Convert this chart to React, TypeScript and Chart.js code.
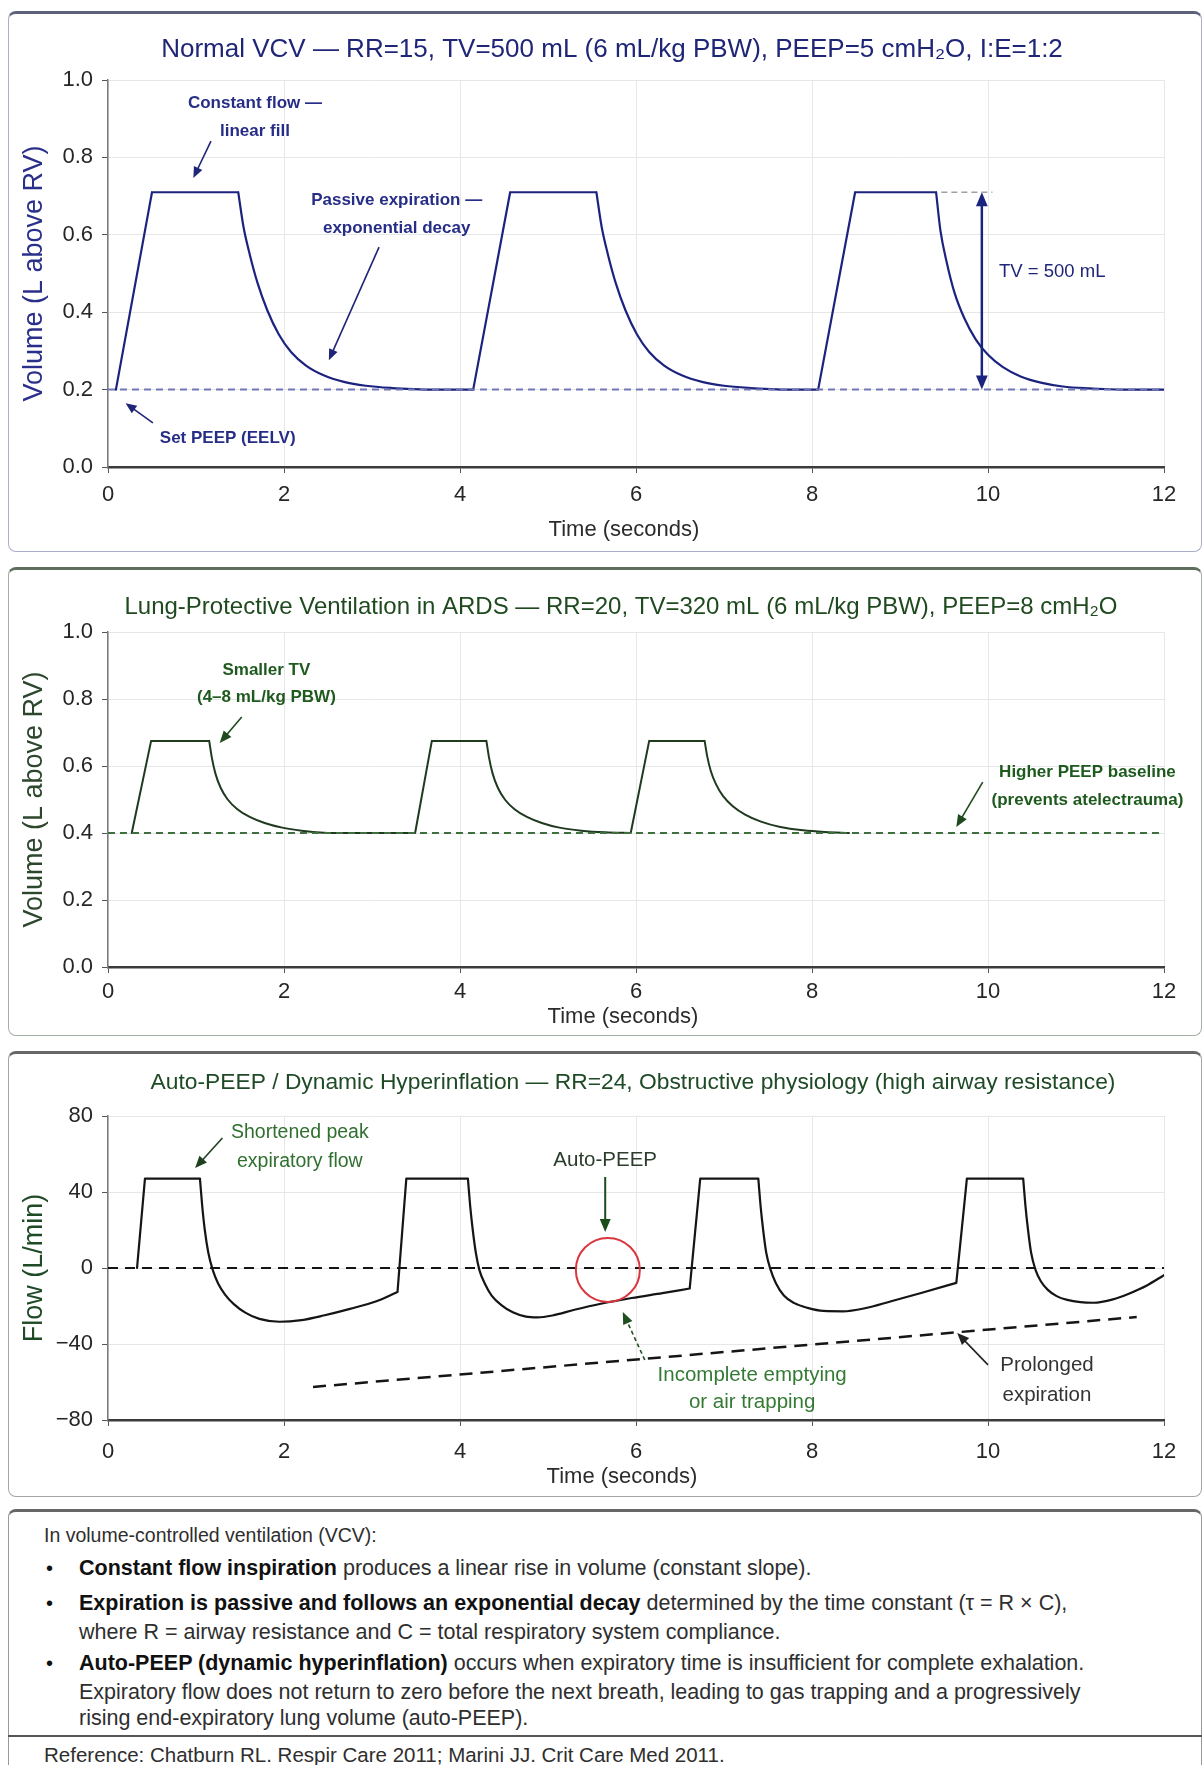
import React, { useEffect, useRef } from 'react';
import { Chart, registerables } from 'chart.js';

Chart.register(...registerables);

const FONT = '"Liberation Sans", Arial, Helvetica, sans-serif';

// ---------------- axis ticks ----------------
const timeTicks = [0, 2, 4, 6, 8, 10, 12];
const volumeTicks = [0, 0.2, 0.4, 0.6, 0.8, 1.0];
const flowTicks = [-80, -40, 0, 40, 80];

// ---------------- Panel 1: Normal VCV volume (null = pen lift) ----------------
const vcvVolumeTrace: (number[] | null)[] = [
  [0.09, 0.2], [0.5, 0.71], null,
  [0.5, 0.71], [1.48, 0.71], null,
  [1.48, 0.71], [1.54, 0.62], [1.61, 0.55], [1.7, 0.475], [1.81, 0.405], [1.94, 0.343], [2.08, 0.297],
  [2.25, 0.262], [2.45, 0.237], [2.68, 0.22], [2.93, 0.21], [3.23, 0.204], [3.6, 0.2], null,
  [3.6, 0.2], [4.15, 0.2], null,
  [4.15, 0.2], [4.57, 0.71], null,
  [4.57, 0.71], [5.55, 0.71], null,
  [5.55, 0.71], [5.61, 0.62], [5.68, 0.55], [5.77, 0.475], [5.88, 0.405], [6.01, 0.343], [6.15, 0.297],
  [6.32, 0.262], [6.52, 0.237], [6.75, 0.22], [7.0, 0.21], [7.3, 0.204], [7.65, 0.2], null,
  [7.65, 0.2], [8.07, 0.2], null,
  [8.07, 0.2], [8.49, 0.71], null,
  [8.49, 0.71], [9.41, 0.71], null,
  [9.41, 0.71], [9.46, 0.61], [9.53, 0.53], [9.62, 0.45], [9.73, 0.385], [9.86, 0.33], [10.0, 0.29],
  [10.17, 0.258], [10.37, 0.234], [10.6, 0.218], [10.85, 0.208], [11.15, 0.203], [11.5, 0.2], null,
  [11.5, 0.2], [12, 0.2],
];
const vcvPeepLine: number[][] = [[0, 0.2], [12, 0.2]];

// ---------------- Panel 2: ARDS lung-protective volume ----------------
const ardsVolumeTrace: (number[] | null)[] = [
  [0.27, 0.4], [0.49, 0.675], null,
  [0.49, 0.675], [1.15, 0.675], null,
  [1.15, 0.675], [1.18, 0.625], [1.22, 0.578], [1.28, 0.535], [1.36, 0.5], [1.47, 0.471],
  [1.61, 0.448], [1.78, 0.43], [1.98, 0.416], [2.2, 0.407], [2.45, 0.401], [2.62, 0.4], null,
  [2.62, 0.4], [3.49, 0.4], null,
  [3.49, 0.4], [3.68, 0.675], null,
  [3.68, 0.675], [4.3, 0.675], null,
  [4.3, 0.675], [4.33, 0.625], [4.37, 0.578], [4.43, 0.535], [4.51, 0.5], [4.62, 0.471],
  [4.76, 0.448], [4.93, 0.43], [5.13, 0.416], [5.38, 0.407], [5.65, 0.402], [5.94, 0.4], null,
  [5.94, 0.4], [6.15, 0.675], null,
  [6.15, 0.675], [6.78, 0.675], null,
  [6.78, 0.675], [6.81, 0.628], [6.85, 0.585], [6.91, 0.545], [6.99, 0.51], [7.1, 0.48],
  [7.24, 0.455], [7.42, 0.434], [7.64, 0.418], [7.9, 0.408], [8.15, 0.403], [8.42, 0.4],
];
const ardsPeepLine: number[][] = [[0, 0.4], [12, 0.4]];

// ---------------- Panel 3: Auto-PEEP flow ----------------
const autoPeepFlowTrace: (number[] | null)[] = [
  [0.33, 0], [0.42, 47], null,
  [0.42, 47], [1.045, 47], null,
  [1.045, 47], [1.07, 33], [1.1, 20], [1.14, 8], [1.19, -1], [1.25, -8], [1.33, -14], [1.43, -19],
  [1.56, -23.5], [1.72, -26.8], [1.95, -28.3], [2.2, -27.4], [2.45, -25], [2.75, -21.5], [3.05, -17.5],
  [3.29, -12.6], null,
  [3.29, -12.6], [3.39, 47], null,
  [3.39, 47], [4.09, 47], null,
  [4.09, 47], [4.115, 33], [4.145, 20], [4.18, 8], [4.22, -1], [4.28, -8], [4.36, -14.5], [4.47, -19.5],
  [4.6, -23.3], [4.75, -25.6], [4.88, -26], [5.05, -25], [5.3, -22], [5.6, -18.8], [5.95, -15.8],
  [6.3, -13.2], [6.61, -10.8], null,
  [6.61, -10.8], [6.73, 47], null,
  [6.73, 47], [7.39, 47], null,
  [7.39, 47], [7.415, 33], [7.445, 20], [7.48, 8], [7.53, -1], [7.59, -8], [7.68, -14.5], [7.8, -18.5],
  [7.95, -21], [8.13, -22.6], [8.35, -22.8], [8.6, -21.2], [8.9, -17.5], [9.25, -13], [9.64, -7.8], null,
  [9.64, -7.8], [9.76, 47], null,
  [9.76, 47], [10.4, 47], null,
  [10.4, 47], [10.425, 33], [10.455, 20], [10.49, 8], [10.54, -1], [10.6, -7], [10.68, -11.5],
  [10.78, -14.8], [10.9, -16.8], [11.05, -18], [11.2, -18.3], [11.42, -16.5], [11.6, -13.5],
  [11.8, -9.3], [12, -3.8],
];
const zeroFlowLine: number[][] = [[0, 0], [12, 0]];
const prolongedExpLine: number[][] = [[2.33, -62.6], [11.69, -25.8]];

// ---------------- helpers ----------------
function toPoints(trace: (number[] | null)[]) {
  const out: { x: number; y: number | null }[] = [];
  let lastX = 0;
  for (const p of trace) {
    if (p === null) out.push({ x: lastX, y: null });
    else {
      out.push({ x: p[0], y: p[1] });
      lastX = p[0];
    }
  }
  return out;
}

type TextAnn = { lines: string[]; t: number; v: number; color: string; font: string; gap?: number };
type ArrowAnn = {
  from: number[]; to: number[]; color: string; width: number; head?: number;
  dash?: number[]; both?: boolean; noHead?: boolean;
};
type CircleAnn = { t: number; v: number; r: number; color: string; width: number };
type PixLabel = { text: string; x: number; y: number; color: string; font: string };
type Ann = { texts: TextAnn[]; arrows: ArrowAnn[]; circles: CircleAnn[]; labels: PixLabel[] };

function head(ctx: CanvasRenderingContext2D, x: number, y: number, ang: number, len: number) {
  const half = len * 0.42;
  const bx = x - len * Math.cos(ang);
  const by = y - len * Math.sin(ang);
  ctx.beginPath();
  ctx.moveTo(x, y);
  ctx.lineTo(bx + half * Math.sin(ang), by - half * Math.cos(ang));
  ctx.lineTo(bx - half * Math.sin(ang), by + half * Math.cos(ang));
  ctx.closePath();
  ctx.fill();
}

function makeAnnPlugin(ann: Ann) {
  return {
    id: 'waveAnnotations',
    afterDatasetsDraw(chart: any) {
      const ctx: CanvasRenderingContext2D = chart.ctx;
      const xs = chart.scales.x;
      const ys = chart.scales.y;
      const px = (t: number) => xs.getPixelForValue(t);
      const py = (v: number) => ys.getPixelForValue(v);
      ctx.save();
      for (const c of ann.circles) {
        ctx.beginPath();
        ctx.strokeStyle = c.color;
        ctx.lineWidth = c.width;
        ctx.arc(px(c.t), py(c.v), c.r, 0, Math.PI * 2);
        ctx.stroke();
      }
      for (const a of ann.arrows) {
        const x1 = px(a.from[0]);
        const y1 = py(a.from[1]);
        const x2 = px(a.to[0]);
        const y2 = py(a.to[1]);
        const ang = Math.atan2(y2 - y1, x2 - x1);
        const hl = a.head ?? 11;
        ctx.strokeStyle = a.color;
        ctx.fillStyle = a.color;
        ctx.lineWidth = a.width;
        ctx.setLineDash(a.dash ?? []);
        const sx = a.both ? x1 + hl * 0.8 * Math.cos(ang) : x1;
        const sy = a.both ? y1 + hl * 0.8 * Math.sin(ang) : y1;
        const ex = a.noHead ? x2 : x2 - hl * 0.8 * Math.cos(ang);
        const ey = a.noHead ? y2 : y2 - hl * 0.8 * Math.sin(ang);
        ctx.beginPath();
        ctx.moveTo(sx, sy);
        ctx.lineTo(ex, ey);
        ctx.stroke();
        ctx.setLineDash([]);
        if (!a.noHead) head(ctx, x2, y2, ang, hl);
        if (a.both) head(ctx, x1, y1, ang + Math.PI, hl);
      }
      ctx.textAlign = 'center';
      ctx.textBaseline = 'middle';
      for (const t of ann.texts) {
        ctx.font = t.font;
        ctx.fillStyle = t.color;
        const x = px(t.t);
        const y = py(t.v);
        t.lines.forEach((ln, i) => ctx.fillText(ln, x, y + i * (t.gap ?? 28)));
      }
      ctx.restore();
    },
    afterDraw(chart: any) {
      const ctx: CanvasRenderingContext2D = chart.ctx;
      ctx.save();
      ctx.textAlign = 'center';
      ctx.textBaseline = 'middle';
      for (const l of ann.labels) {
        ctx.font = l.font;
        ctx.fillStyle = l.color;
        ctx.fillText(l.text, l.x, l.y);
      }
      ctx.restore();
    },
  };
}

type PanelCfg = {
  height: number;
  datasets: any[];
  yTicks: number[];
  yMin: number;
  yMax: number;
  yFmt: (v: number) => string;
  yTitle: string;
  yTitleColor: string;
  padTop: number;
  padBottom: number;
  xAxisH: number;
  xTickPad: number;
  ann: Ann;
};

const CANVAS_W = 1194;

function buildConfig(p: PanelCfg): any {
  const tickFont = { family: FONT, size: 22 };
  return {
    type: 'line',
    data: { datasets: p.datasets },
    options: {
      animation: false,
      responsive: false,
      events: [],
      layout: { padding: { top: p.padTop, right: 38, bottom: p.padBottom, left: 0 } },
      plugins: { legend: { display: false }, tooltip: { enabled: false }, title: { display: false } },
      scales: {
        x: {
          type: 'linear',
          min: 0,
          max: 12,
          afterBuildTicks: (s: any) => {
            s.ticks = timeTicks.map((v) => ({ value: v }));
          },
          afterFit: (s: any) => {
            s.height = p.xAxisH;
          },
          grid: { color: '#e7e7ea', lineWidth: 1, tickColor: '#555', tickLength: 6, drawTicks: true },
          border: { color: '#3c3c3c', width: 2.5 },
          ticks: { font: tickFont, color: '#262626', padding: p.xTickPad, maxRotation: 0, callback: (v: any) => String(v) },
        },
        y: {
          type: 'linear',
          min: p.yMin,
          max: p.yMax,
          afterBuildTicks: (s: any) => {
            s.ticks = p.yTicks.map((v) => ({ value: v }));
          },
          afterFit: (s: any) => {
            s.width = 100;
          },
          grid: { color: '#e7e7ea', lineWidth: 1, tickColor: '#555', tickLength: 6, drawTicks: true },
          border: { color: '#7a7a7a', width: 1.5 },
          ticks: { font: tickFont, color: '#262626', padding: 9, callback: (v: any) => p.yFmt(Number(v)) },
          title: {
            display: true,
            text: p.yTitle,
            color: p.yTitleColor,
            font: { family: FONT, size: 27 },
            padding: { top: 10, bottom: 0 },
          },
        },
      },
    },
    plugins: [makeAnnPlugin(p.ann)],
  };
}

function traceDataset(trace: (number[] | null)[], color: string, width: number) {
  return {
    data: toPoints(trace),
    borderColor: color,
    borderWidth: width,
    pointRadius: 0,
    fill: false,
    spanGaps: false,
    cubicInterpolationMode: 'monotone',
    borderCapStyle: 'round',
    borderJoinStyle: 'round',
  };
}

function lineDataset(pts: number[][], color: string, width: number, dash: number[]) {
  return {
    data: pts.map((q) => ({ x: q[0], y: q[1] })),
    borderColor: color,
    borderWidth: width,
    borderDash: dash,
    pointRadius: 0,
    fill: false,
    tension: 0,
  };
}

function Panel({ top, cfg, side, topColor }: { top: number; cfg: PanelCfg; side: string; topColor: string }) {
  const ref = useRef<HTMLCanvasElement>(null);
  useEffect(() => {
    const chart = new Chart(ref.current as HTMLCanvasElement, buildConfig(cfg));
    return () => chart.destroy();
  }, []);
  return (
    <>
      <div
        style={{
          position: 'absolute',
          left: 8,
          top,
          width: CANVAS_W,
          height: cfg.height,
          boxSizing: 'border-box',
          border: `1.5px solid ${side}`,
          borderTop: `3px solid ${topColor}`,
          borderRadius: 8,
          background: '#fff',
        }}
      />
      <canvas
        ref={ref}
        width={CANVAS_W}
        height={cfg.height}
        style={{ position: 'absolute', left: 8, top, width: CANVAS_W, height: cfg.height }}
      />
    </>
  );
}

const NAVY = '#1f2577';
const P1_ANN = '#262d86';
const GREEN_TITLE = '#1f4a1f';

const panel1: PanelCfg = {
  height: 541,
  datasets: [
    lineDataset(vcvPeepLine, '#7177b5', 2, [7, 5]),
    traceDataset(vcvVolumeTrace, '#1c237e', 2.2),
  ],
  yTicks: volumeTicks,
  yMin: 0,
  yMax: 1,
  yFmt: (v) => v.toFixed(1),
  yTitle: 'Volume (L above RV)',
  yTitleColor: '#2a2f8a',
  padTop: 69,
  padBottom: 10,
  xAxisH: 75,
  xTickPad: 9,
  ann: {
    texts: [
      { lines: ['Constant flow —', 'linear fill'], t: 1.67, v: 0.941, color: P1_ANN, font: `bold 17px ${FONT}`, gap: 28 },
      { lines: ['Passive expiration —', 'exponential decay'], t: 3.28, v: 0.69, color: P1_ANN, font: `bold 17px ${FONT}`, gap: 28 },
      { lines: ['Set PEEP (EELV)'], t: 1.36, v: 0.075, color: P1_ANN, font: `bold 17px ${FONT}` },
      { lines: ['TV = 500 mL'], t: 10.73, v: 0.504, color: NAVY, font: `18.5px ${FONT}` },
    ],
    arrows: [
      { from: [1.17, 0.842], to: [0.97, 0.747], color: NAVY, width: 1.6, head: 11 },
      { from: [3.08, 0.568], to: [2.51, 0.276], color: NAVY, width: 1.6, head: 11 },
      { from: [0.51, 0.114], to: [0.2, 0.165], color: NAVY, width: 1.6, head: 11 },
      { from: [9.93, 0.2], to: [9.93, 0.71], color: '#1a237e', width: 2.5, head: 14, both: true },
      { from: [9.47, 0.71], to: [10.05, 0.71], color: '#a0a0a8', width: 1.5, dash: [6, 4], noHead: true },
    ],
    circles: [],
    labels: [
      { text: 'Normal VCV — RR=15, TV=500 mL (6 mL/kg PBW), PEEP=5 cmH₂O, I:E=1:2', x: 604, y: 39, color: NAVY, font: `26px ${FONT}` },
      { text: 'Time (seconds)', x: 616, y: 519, color: '#2b2b2b', font: `22px ${FONT}` },
    ],
  },
};

const panel2: PanelCfg = {
  height: 469,
  datasets: [
    lineDataset(ardsPeepLine, '#3f6e3f', 1.8, [7, 5]),
    traceDataset(ardsVolumeTrace, '#1f3a1f', 2),
  ],
  yTicks: volumeTicks,
  yMin: 0,
  yMax: 1,
  yFmt: (v) => v.toFixed(1),
  yTitle: 'Volume (L above RV)',
  yTitleColor: '#2d472d',
  padTop: 65,
  padBottom: 9,
  xAxisH: 60,
  xTickPad: 6,
  ann: {
    texts: [
      { lines: ['Smaller TV', '(4–8 mL/kg PBW)'], t: 1.8, v: 0.887, color: '#1e5a1e', font: `bold 17px ${FONT}`, gap: 27 },
      { lines: ['Higher PEEP baseline', '(prevents atelectrauma)'], t: 11.13, v: 0.582, color: '#1e5a1e', font: `bold 17px ${FONT}`, gap: 28 },
    ],
    arrows: [
      { from: [1.52, 0.746], to: [1.27, 0.669], color: '#1e4a1e', width: 1.6, head: 12 },
      { from: [9.94, 0.552], to: [9.64, 0.418], color: '#1e4a1e', width: 1.6, head: 12 },
    ],
    circles: [],
    labels: [
      { text: 'Lung-Protective Ventilation in ARDS — RR=20, TV=320 mL (6 mL/kg PBW), PEEP=8 cmH₂O', x: 613, y: 40, color: GREEN_TITLE, font: `24px ${FONT}` },
      { text: 'Time (seconds)', x: 615, y: 450, color: '#2b2b2b', font: `22px ${FONT}` },
    ],
  },
};

const panel3: PanelCfg = {
  height: 446,
  datasets: [
    lineDataset(zeroFlowLine, '#151515', 2.2, [10, 7]),
    lineDataset(prolongedExpLine, '#151515', 2.5, [13, 8]),
    traceDataset(autoPeepFlowTrace, '#151515', 2.2),
  ],
  yTicks: flowTicks,
  yMin: -80,
  yMax: 80,
  yFmt: (v) => (v < 0 ? '−' + Math.abs(v) : String(v)),
  yTitle: 'Flow (L/min)',
  yTitleColor: '#1f4a26',
  padTop: 65,
  padBottom: 17,
  xAxisH: 60,
  xTickPad: 13,
  ann: {
    texts: [
      { lines: ['Shortened peak', 'expiratory flow'], t: 2.18, v: 71.1, color: '#2f6f2f', font: `19.5px ${FONT}`, gap: 29 },
      { lines: ['Auto-PEEP'], t: 5.65, v: 56.8, color: '#2d3d2d', font: `20.5px ${FONT}` },
      { lines: ['Incomplete emptying', 'or air trapping'], t: 7.32, v: -56.3, color: '#347a34', font: `20.5px ${FONT}`, gap: 27 },
      { lines: ['Prolonged', 'expiration'], t: 10.67, v: -51, color: '#333', font: `20.5px ${FONT}`, gap: 30 },
    ],
    arrows: [
      { from: [1.3, 68.4], to: [0.99, 52.6], color: '#1f3f1f', width: 1.6, head: 12 },
      { from: [5.65, 47.9], to: [5.65, 18.9], color: '#1b4d1b', width: 2, head: 13 },
      { from: [6.1, -48.4], to: [5.85, -23.2], color: '#1f4f1f', width: 1.6, dash: [4, 3], head: 12 },
      { from: [10.0, -51], to: [9.65, -34.2], color: '#222', width: 1.6, head: 12 },
    ],
    circles: [{ t: 5.68, v: -1, r: 32, color: '#d9363e', width: 2 }],
    labels: [
      { text: 'Auto-PEEP / Dynamic Hyperinflation — RR=24, Obstructive physiology (high airway resistance)', x: 625, y: 32, color: '#1f4a26', font: `22.8px ${FONT}` },
      { text: 'Time (seconds)', x: 614, y: 426, color: '#2b2b2b', font: `22px ${FONT}` },
    ],
  },
};

function NoteLine({ y, x, size, children }: { y: number; x: number; size: number; children: React.ReactNode }) {
  return (
    <div style={{ position: 'absolute', left: x, top: y - 13, height: 26, lineHeight: '26px', whiteSpace: 'nowrap', fontSize: size, color: '#2e2e2e' }}>
      {children}
    </div>
  );
}

function Bullet({ y }: { y: number }) {
  return (
    <div style={{ position: 'absolute', left: 46, top: y - 13, height: 26, lineHeight: '26px', fontSize: 20, color: '#111' }}>•</div>
  );
}

function NotesBox() {
  const B = ({ children }: { children: React.ReactNode }) => <b style={{ color: '#111' }}>{children}</b>;
  const S = 21.5;
  return (
    <>
      <div
        style={{
          position: 'absolute',
          left: 8,
          top: 1509,
          width: CANVAS_W,
          height: 270,
          boxSizing: 'border-box',
          border: '1.5px solid #999',
          borderTop: '3px solid #666',
          borderRadius: 8,
          background: '#fff',
        }}
      />
      <NoteLine x={44} y={1535} size={19.5}>In volume-controlled ventilation (VCV):</NoteLine>
      <Bullet y={1568} />
      <NoteLine x={79} y={1568} size={S}><B>Constant flow inspiration</B> produces a linear rise in volume (constant slope).</NoteLine>
      <Bullet y={1603} />
      <NoteLine x={79} y={1603} size={S}><B>Expiration is passive and follows an exponential decay</B> determined by the time constant (τ = R × C),</NoteLine>
      <NoteLine x={79} y={1632} size={S}>where R = airway resistance and C = total respiratory system compliance.</NoteLine>
      <Bullet y={1663} />
      <NoteLine x={79} y={1663} size={S}><B>Auto-PEEP (dynamic hyperinflation)</B> occurs when expiratory time is insufficient for complete exhalation.</NoteLine>
      <NoteLine x={79} y={1692} size={S}>Expiratory flow does not return to zero before the next breath, leading to gas trapping and a progressively</NoteLine>
      <NoteLine x={79} y={1718} size={S}>rising end-expiratory lung volume (auto-PEEP).</NoteLine>
      <div style={{ position: 'absolute', left: 8, top: 1735, width: CANVAS_W, height: 2, background: '#555' }} />
      <NoteLine x={44} y={1755} size={20.5}>Reference: Chatburn RL. Respir Care 2011; Marini JJ. Crit Care Med 2011.</NoteLine>
    </>
  );
}

export default function App() {
  return (
    <div
      style={{
        position: 'absolute',
        left: 0,
        top: 0,
        width: 1204,
        height: 1765,
        overflow: 'hidden',
        background: '#fff',
        fontFamily: FONT,
      }}
    >
      <Panel top={11} cfg={panel1} side="#a9adc9" topColor="#5d617e" />
      <Panel top={567} cfg={panel2} side="#a3b0a3" topColor="#5f6d5f" />
      <Panel top={1051} cfg={panel3} side="#a5a5a5" topColor="#666" />
      <NotesBox />
    </div>
  );
}
